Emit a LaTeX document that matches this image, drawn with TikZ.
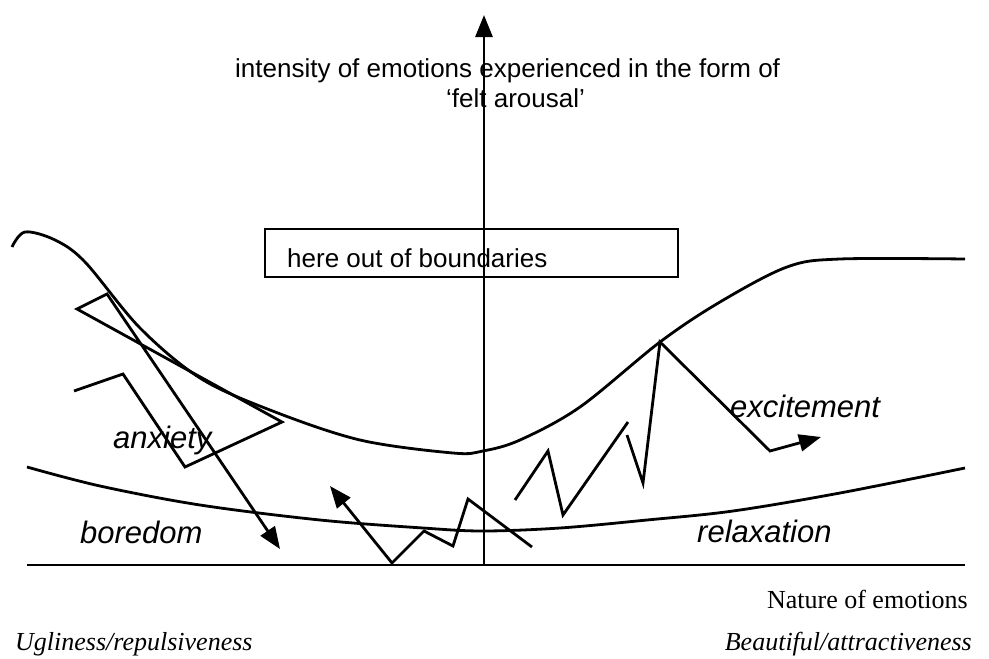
\documentclass[tikz,border=0pt]{standalone}
\usepackage{fontspec}
\setmainfont{Liberation Serif}
\setsansfont{Liberation Sans}
\usetikzlibrary{arrows.meta}
\begin{document}
\begin{tikzpicture}[x=1pt,y=-1pt,
  ln/.style={line width=2.8pt,line join=miter},
  tip/.style={-{Triangle[length=22pt,width=17pt]}},
  sanslbl/.style={inner sep=0pt,font=\sffamily\fontsize{26}{30}\selectfont},
  itlbl/.style={inner sep=0pt,font=\sffamily\itshape\fontsize{31}{34}\selectfont},
  serlbl/.style={inner sep=0pt,font=\rmfamily\fontsize{26}{30}\selectfont},
  seritlbl/.style={inner sep=0pt,font=\rmfamily\itshape\fontsize{26}{30}\selectfont}]
\useasboundingbox (0,0) rectangle (989,659);
\fill[white] (0,0) rectangle (989,659);
% axes
\coordinate (o) at (484,565);
\coordinate (ytop) at (484,15);
\coordinate (xl) at (27,565);
\coordinate (xr) at (965,565);
\draw[ln] (xl) -- (xr);
\draw[ln,tip] (o) -- (ytop);
% upper curve
\draw[ln] plot[smooth,tension=0.55] coordinates {(12,247) (25,232) (55,240) (85,262) (140,328) (200,378) (270,410) (360,440) (453,453) (483,451) (520,440) (580,407) (660,342) (720,302) (787,267) (840,259) (965,259)};
% lower curve
\draw[ln] plot[smooth,tension=0.55] coordinates {(27,467) (100,486) (200,505) (320,520) (423,528) (483,531) (560,528) (647,520) (733,511) (840,493) (965,468)};
% box
\node[draw,line width=2.4pt,minimum width=413pt,minimum height=48pt,inner sep=0pt] (box) at (471.5,253) {};
\node[sanslbl,anchor=base west] (boxt) at (287,267) {here out of boundaries};
% anxiety path
\coordinate (a1) at (74,391);
\coordinate (a2) at (123,374);
\coordinate (a3) at (185,467);
\coordinate (a4) at (282,422);
\coordinate (a5) at (77,309);
\coordinate (a6) at (107,294);
\coordinate (a7) at (280,549);
\draw[ln,tip] (a1) -- (a2) -- (a3) -- (a4) -- (a5) -- (a6) -- (a7);
% middle zigzag
\coordinate (m1) at (532,547);
\coordinate (m2) at (468,499);
\coordinate (m3) at (453,546);
\coordinate (m4) at (424,531);
\coordinate (m5) at (392,563);
\coordinate (m6) at (330,486);
\draw[ln,tip] (m1) -- (m2) -- (m3) -- (m4) -- (m5) -- (m6);
% right zigzags
\coordinate (r1) at (515,500);
\coordinate (r2) at (548,451);
\coordinate (r3) at (563,515);
\coordinate (r4) at (628,422);
\draw[ln] (r1) -- (r2) -- (r3) -- (r4);
\coordinate (s1) at (627,435);
\coordinate (s2) at (643,483);
\coordinate (s3) at (660,342);
\coordinate (s4) at (770,451);
\coordinate (s5) at (821,437);
\draw[ln,tip] (s1) -- (s2) -- (s3) -- (s4) -- (s5);
% labels
\node[sanslbl,anchor=base west] (t1) at (235,77) {intensity of emotions experienced in the form of};
\node[sanslbl,anchor=base west] (t2) at (446,107) {‘felt arousal’};
\node[itlbl,anchor=base west] (anx) at (113,448) {anxiety};
\node[itlbl,anchor=base west] (bor) at (80,543) {boredom};
\node[itlbl,anchor=base west] (exc) at (730,417) {excitement};
\node[itlbl,anchor=base west] (rel) at (697,542) {relaxation};
\node[serlbl,anchor=base east] (nat) at (968,608) {Nature of emotions};
\node[seritlbl,anchor=base west] (ugl) at (15,650) {Ugliness/repulsiveness};
\node[seritlbl,anchor=base east] (bea) at (972,650) {Beautiful/attractiveness};
\end{tikzpicture}
\end{document}
